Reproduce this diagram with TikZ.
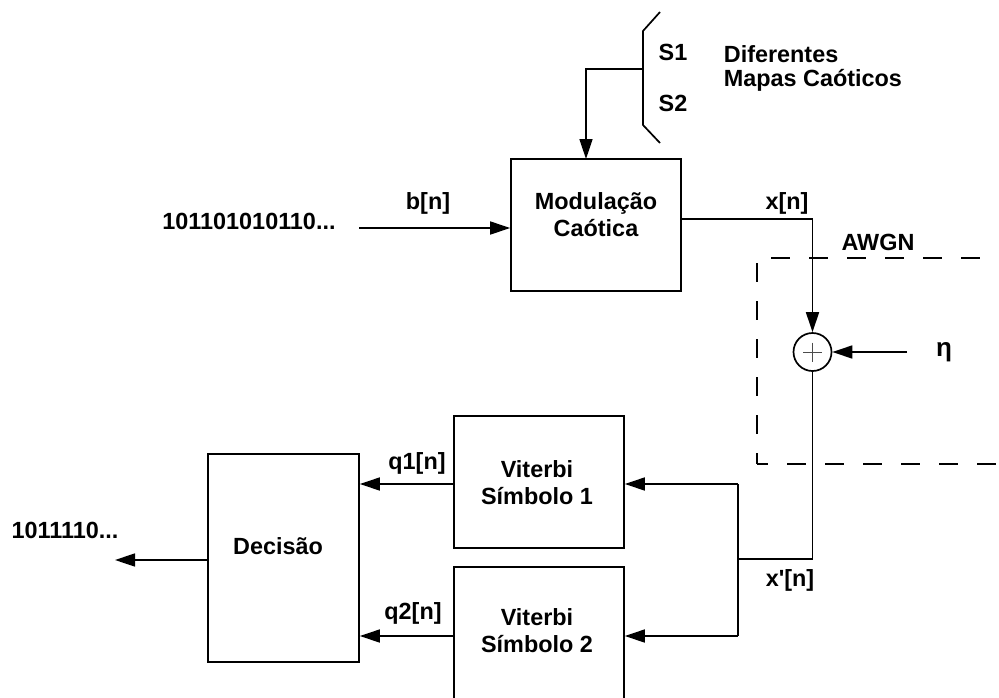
\documentclass[tikz,border=0pt]{standalone}
\usepackage{fontspec}
\setmainfont{Liberation Sans}
\usetikzlibrary{arrows.meta,calc}
\begin{document}
\begin{tikzpicture}[x=1pt,y=-1pt,
  line width=1.7pt,
  >={Triangle[length=20pt,width=13pt]},
  blk/.style={draw,rectangle,minimum width=170pt,minimum height=132pt,inner sep=0pt},
  txt/.style={font=\bfseries\fontsize{23.4}{27}\selectfont,inner sep=0pt,align=center},
  awgn/.style={line width=1.1pt,dash pattern=on 19pt off 19pt}]
\useasboundingbox (0,0) rectangle (999,697);
\clip (0,0) rectangle (999,697);
% blocks
\node[blk] (mod) at (596,225) {};
\node[blk] (vit1) at (539,482) {};
\node[blk] (vit2) at (539,633) {};
\node[draw,rectangle,minimum width=151pt,minimum height=208pt,inner sep=0pt] (dec) at (283.5,558) {};
\node[draw,circle,minimum size=38pt,inner sep=0pt,line width=1.7pt] (add) at (812.5,352) {};
\draw[line width=0.6pt,black!70] ($(add.center)+(-9.5,0)$) -- ($(add.center)+(9.5,0)$)
  ($(add.center)+(0,-9.5)$) -- ($(add.center)+(0,9.5)$);
% texts
\node[txt] (tin) at (249,221) {101101010110...};
\node[txt] (tb) at (428,203) {b[n]};
\node[txt] (tmod) at (596,215) {Modulação\\Caótica};
\node[txt] (tx) at (787,203) {x[n]};
\node[txt] (tawgn) at (878,242) {AWGN};
\node[txt,font=\bfseries\fontsize{26}{30}\selectfont] (teta) at (944,352) {η};
\node[txt] (ts1) at (673,52) {S1};
\node[txt] (ts2) at (673,103) {S2};
\node[txt,anchor=west] (tdif) at (723,54) {Diferentes};
\node[txt,anchor=west] (tmap) at (723,80) {Mapas Caóticos};
\node[txt] (tv1) at (537,483) {Viterbi\\Símbolo 1};
\node[txt] (tv2) at (537,631) {Viterbi\\Símbolo 2};
\node[txt] (tq1) at (417,463) {q1[n]};
\node[txt] (tq2) at (413,613) {q2[n]};
\node[txt] (txp) at (790,580) {x\textquotesingle[n]};
\node[txt] (tdec) at (278,546) {Decisão};
\node[txt] (tout) at (65,530) {1011110...};
% switch
\coordinate (sw1) at (660,12);
\coordinate (sw2) at (643,31);
\coordinate (sw3) at (643,125);
\coordinate (sw4) at (660,143);
\coordinate (swj) at (643,69);
\draw (sw1) -- (sw2) -- (sw3) -- (sw4);
\coordinate (modin) at (586,159);
\draw[->] (swj) -- (swj -| modin) -- (modin);
% input
\coordinate (in) at (359,228);
\draw[->] (in) -- (in -| mod.west);
% output of modulator
\coordinate (xo) at (812.5,219);
\draw[->] (xo -| mod.east) -- (xo) -- (add.north);
% noise
\coordinate (eta) at (907,352);
\draw[->] (eta) -- (add.east);
% AWGN dashed box
\coordinate (aw1) at (757,258);
\coordinate (aw2) at (757,464);
\coordinate (aw3) at (999,464);
\coordinate (aw4) at (999,258);
\draw[awgn] (771,258) -- (aw4);
\draw[awgn,dash phase=-5pt] (757,258) -- (aw2);
\draw[awgn,dash phase=8pt] (aw2) -- (aw3);
% receiver branch
\coordinate (xpj) at (812.5,559);
\coordinate (br) at (738,559);
\coordinate (b1) at (738,484);
\coordinate (b2) at (738,636);
\draw (add.south) -- (xpj) -- (br);
\draw (b1) -- (b2);
\draw[->] (b1) -- (b1 -| vit1.east);
\draw[->] (b2) -- (b2 -| vit2.east);
\draw[->] (b1 -| vit1.west) -- (b1 -| dec.east);
\draw[->] (b2 -| vit2.west) -- (b2 -| dec.east);
\coordinate (out) at (115,560);
\draw[->] (out -| dec.west) -- (out);
\end{tikzpicture}
\end{document}
